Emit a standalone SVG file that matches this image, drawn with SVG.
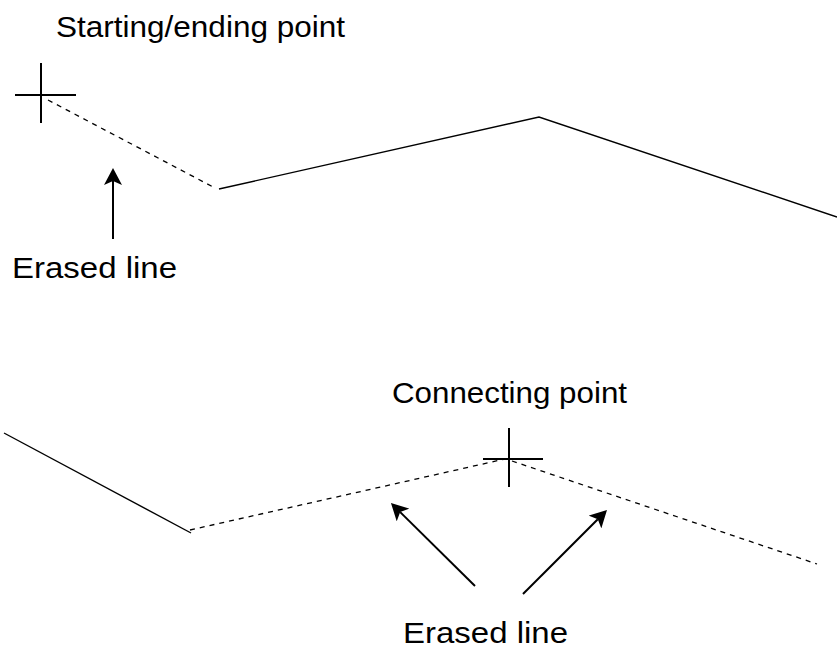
<svg xmlns="http://www.w3.org/2000/svg" width="837" height="653" viewBox="0 0 837 653">
  <style>
    .solid { fill: none; stroke: #000; stroke-width: 1.4; }
    .dash { fill: none; stroke: #000; stroke-width: 1.3; stroke-dasharray: 5 5; }
    .cross { fill: none; stroke: #000; stroke-width: 2; }
    .arrow { fill: none; stroke: #000; stroke-width: 2; marker-end: url(#head); }
    .label { font-family: "Liberation Sans", Arial, sans-serif; font-size: 29px; fill: #000; }
  </style>
  <defs>
    <marker id="head" viewBox="0 0 17 18" refX="4" refY="9" markerWidth="17" markerHeight="18" markerUnits="userSpaceOnUse" orient="auto">
      <path d="M0,0 L17,9 L0,18 L4,9 Z" fill="#000"/>
    </marker>
  </defs>

  <!-- Top figure -->
  <g id="top-path">
    <polyline class="dash" points="48,100 215,188"/>
    <polyline class="solid" points="219,189 539,117 837,217"/>
  </g>
  <g id="start-point">
    <line class="cross" x1="15" y1="95" x2="76" y2="95"/>
    <line class="cross" x1="41" y1="63" x2="41" y2="123"/>
  </g>
  <g id="label-start">
    <text class="label" x="56" y="37" textLength="289" lengthAdjust="spacingAndGlyphs">Starting/ending point</text>
  </g>
  <g id="label-erased-top">
    <text class="label" x="12" y="278" textLength="165" lengthAdjust="spacingAndGlyphs">Erased line</text>
  </g>

  <!-- Bottom figure -->
  <g id="bottom-path">
    <polyline class="solid" points="4,433 191,533"/>
    <polyline class="dash" points="190,530 505,459"/>
    <polyline class="dash" points="512,461 817,564"/>
  </g>
  <g id="connect-point">
    <line class="cross" x1="483" y1="459" x2="543" y2="459"/>
    <line class="cross" x1="509" y1="428" x2="509" y2="487"/>
  </g>
  <g id="label-connect">
    <text class="label" x="392" y="403" textLength="235" lengthAdjust="spacingAndGlyphs">Connecting point</text>
  </g>
  <g id="label-erased-bottom">
    <text class="label" x="403" y="643" textLength="165" lengthAdjust="spacingAndGlyphs">Erased line</text>
  </g>

  <!-- Connectors -->
  <g id="connectors">
    <line class="arrow" x1="113" y1="239" x2="113" y2="181"/>
    <line class="arrow" x1="475" y1="586" x2="400.2" y2="512.1"/>
    <line class="arrow" x1="523" y1="594" x2="597.8" y2="519.2"/>
  </g>
</svg>
